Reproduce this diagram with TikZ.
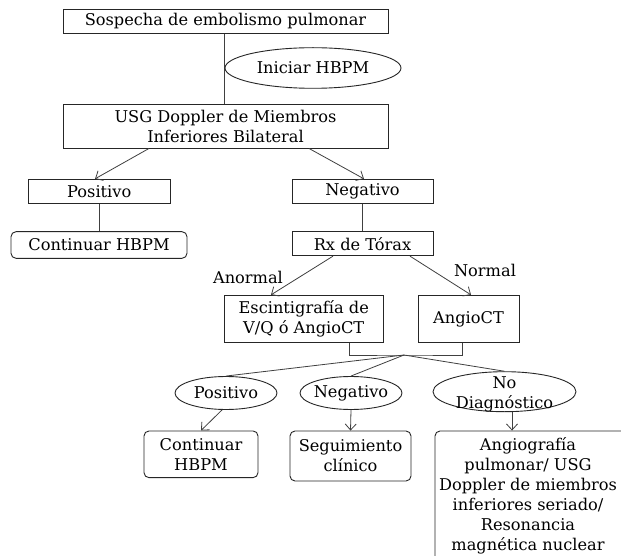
\documentclass[tikz,border=0pt]{standalone}
\usepackage{fontspec}
\setmainfont{DejaVu Serif}
\usetikzlibrary{shapes.geometric,arrows.meta}
\begin{document}
\begin{tikzpicture}[x=1pt,y=-1pt,
  every node/.style={font=\fontsize{16.2}{20}\selectfont, inner sep=0pt, align=center},
  box/.style={draw=black!85, line width=0.9pt, rectangle},
  rbox/.style={box, rounded corners=5pt},
  oval/.style={draw=black!85, line width=0.9pt, ellipse},
  conn/.style={draw=black!75, line width=0.8pt},
  arr/.style={conn, -{Straight Barb[length=6pt,width=11pt]}}
]
\useasboundingbox[fill=white] (0,0) rectangle (621,556);

% top
\node[box, minimum width=325, minimum height=24.4] (b1) at (225.5,21.5) {Sospecha de embolismo pulmonar};
\node[box, minimum width=325, minimum height=44] (b2) at (225.5,126) {USG Doppler de Miembros\\Inferiores Bilateral};
\draw[conn] (b1.south -| 224,0) -- (b2.north -| 224,0);
\node[oval, minimum width=176, minimum height=40.6] (e1) at (313,68) {};
\node (e1t) at (e1) {Iniciar HBPM};

% second level
\node[box, minimum width=141.5, minimum height=24.4] (pos1) at (99.25,191.5) {Positivo};
\node[box, minimum width=141, minimum height=24.4] (neg1) at (362.5,191.5) {Negativo};
\coordinate (a1s) at (149,148);
\coordinate (a2s) at (309,148);
\draw[arr] (b2.south -| a1s) -- (pos1.north -| 95,0);
\draw[arr] (b2.south -| a2s) -- (neg1.north -| 364,0);

\node[rbox, minimum width=176, minimum height=26.6] (cont1) at (99,245) {Continuar HBPM};
\draw[conn] (pos1.south -| cont1) -- (cont1.north);

\node[box, minimum width=141, minimum height=24] (rx) at (362.5,243.7) {Rx de Tórax};
\draw[conn] (neg1.south) -- (rx.north);

\node[box, minimum width=158.5, minimum height=47] (esc) at (303.75,318.8) {Escintigrafía de\\V/Q ó AngioCT};
\node[box, minimum width=101, minimum height=47] (ang) at (468.5,318.8) {AngioCT};
\draw[arr] (rx.south -| 333,0) -- (esc.north -| 271,0);
\draw[arr] (rx.south -| 410,0) -- (ang.north -| 471,0);
\node (lanor) at (248,277) {Anormal};
\node (lnorm) at (485,270) {Normal};

% bracket and fan
\coordinate (jl) at (349,0);
\coordinate (jr) at (462,0);
\coordinate (jn) at (404,355);
\draw[conn] (esc.south -| jl) |- (jn) -| (ang.south -| jr);

\node[oval, minimum width=102, minimum height=33] (pos2) at (226,393) {};
\node (pos2t) at (pos2) {Positivo};
\node[oval, minimum width=102, minimum height=33] (neg2) at (351,393) {};
\node (neg2t) at (neg2) {Negativo};
\node[oval, minimum width=143, minimum height=40] (nod) at (504.5,391.7) {};
\node (nodt) at (504.5,394) {No\\Diagnóstico};
\draw[conn] (jn) -- (pos2.north);
\draw[conn] (jn) -- (neg2.north);
\draw[conn] (jn) -- (nod.north);

% bottom
\node[rbox, minimum width=114, minimum height=46.7] (cont2) at (201,454.3) {Continuar\\HBPM};
\node[rbox, minimum width=121, minimum height=50] (seg) at (350.5,456) {Seguimiento\\clínico};
\node[rbox, minimum width=260, minimum height=132] (big) at (565,497) {};
\node (bigt) at (528,496) {Angiografía\\pulmonar/ USG\\Doppler de miembros\\inferiores seriado/\\Resonancia\\magnética nuclear};
\draw[arr] (pos2.south -| 222,0) -- (cont2.north);
\draw[arr] (neg2.south) -- (seg.north);
\draw[arr] (nod.south -| 512,0) -- (big.north -| 512,0);
\end{tikzpicture}
\end{document}
